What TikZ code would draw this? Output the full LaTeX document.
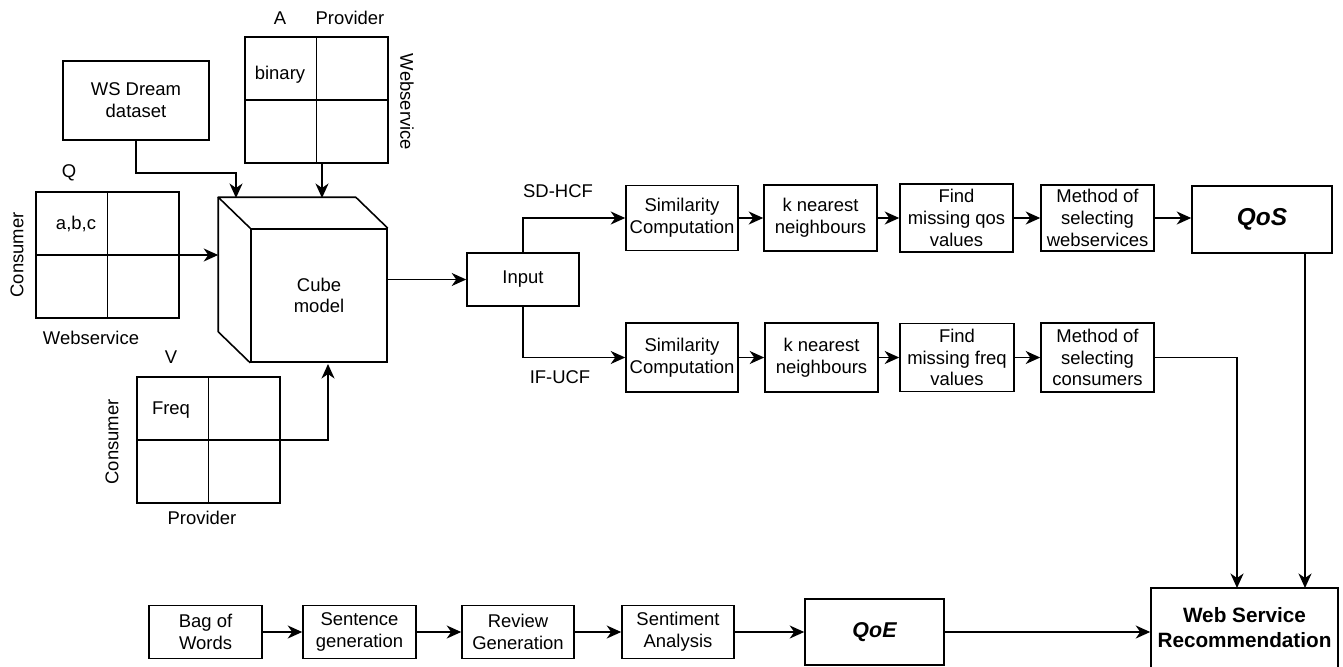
\documentclass[tikz,border=0pt]{standalone}
\usepackage{fontspec}
\setmainfont{Liberation Sans}
\usetikzlibrary{positioning}
\usetikzlibrary{arrows.meta}
\usetikzlibrary{calc}
\tikzset{
    mybox/.style = {rectangle, line width=0.9pt, draw=black, align=center, inner sep=1pt, font=\fontsize{10.5}{12.4}\selectfont, text=black},
    myqos/.style = {mybox, font=\fontsize{13.9}{16}\selectfont\bfseries\itshape},
    myqoe/.style = {mybox, font=\fontsize{12.2}{14}\selectfont\bfseries\itshape},
    mywsr/.style = {mybox, font=\fontsize{11.8}{14.2}\selectfont\bfseries},
    mygrid/.style = {rectangle, line width=0.9pt, draw=black, minimum width=28.6mm, minimum height=25.2mm},
    mytext/.style = {align=center, inner sep=0pt, font=\fontsize{10.5}{12.4}\selectfont, text=black},
    boxsize/.style 2 args = {minimum width=#1*0.2mm, minimum height=#2*0.2mm},
    edgen/.style = {-{Stealth[length=2.9mm,width=2.6mm,inset=0.9mm]}, line width=0.9pt, black},
    edgel/.style = {-, line width=0.9pt, black}
}

\begin{document}
\begin{tikzpicture}[x=0.2mm,y=-0.2mm]
\useasboundingbox (0,0) rectangle (1343,666);

% input side
\node[mybox, boxsize={146}{79}] at ( 136.0, 100.5) (wsd) {WS Dream\\dataset};
\node[mygrid] at ( 316.5, 100.0) (agrid) {};
\node[mygrid] at ( 107.5, 255.0) (qgrid) {};
\node[mygrid] at ( 208.5, 440.0) (vgrid) {};
\draw[edgel] (agrid.north) -- (agrid.south);
\draw[edgel] (agrid.west) -- (agrid.east);
\draw[edgel] (qgrid.north) -- (qgrid.south);
\draw[edgel] (qgrid.west) -- (qgrid.east);
\draw[edgel] (vgrid.north) -- (vgrid.south);
\draw[edgel] (vgrid.west) -- (vgrid.east);

\node[mytext] at ( 280,  18) (alab) {A};
\node[mytext] at ( 350,  18) (aprov) {Provider};
\node[mytext, rotate=-90] at ( 407, 102) (aws) {Webservice};
\node[mytext] at ( 280,  75) (abin) {binary};
\node[mytext] at (  69, 173) (qlab) {Q};
\node[mytext] at (  76, 224) (qabc) {a,b,c};
\node[mytext, rotate=90] at (  17, 255) (qcons) {Consumer};
\node[mytext] at (  91, 338) (qws) {Webservice};
\node[mytext] at ( 171, 357) (vlab) {V};
\node[mytext] at ( 171, 410) (vfreq) {Freq};
\node[mytext, rotate=90] at ( 112, 442) (vcons) {Consumer};
\node[mytext] at ( 202, 518) (vprov) {Provider};

% cube
\node[mybox, boxsize={136}{133}] at ( 319.0, 295.5) (cube) {Cube\\model};
\coordinate (cubebtl) at ($(cube.north west)+(-32,-31)$);
\coordinate (cubebtr) at ($(cube.north east)+(-32,-31)$);
\coordinate (cubebbl) at ($(cube.south west)+(-32,-31)$);
\draw[edgel, line join=round] (cube.north west) -- (cubebtl) -- (cubebtr) -- (cube.north east);
\draw[edgel, line join=round] (cubebtl) -- (cubebbl) -- (cube.south west);
\coordinate (cubeina) at (236, 198);
\coordinate (cubeinb) at (322, 198);
\coordinate (cubeind) at (328, 364);

\draw[edgen] (wsd.south) -- ++(0,32) -| (cubeina);
\draw[edgen] (agrid.south -| cubeinb) -- (cubeinb);
\draw[edgen] (qgrid.east) -- (qgrid.east -| cubebtl);
\draw[edgen] (vgrid.east) -| (cubeind);

% two filtering branches
\node[mybox, boxsize={112}{53}] at ( 523.0, 279.5) (input) {Input};
\node[mytext] at ( 558, 191) (sdhcf) {SD-HCF};
\node[mytext] at ( 560, 377) (ifucf) {IF-UCF};

\node[mybox, boxsize={112}{65}] at ( 682.0, 218.0) (sim1) {Similarity\\Computation};
\node[mybox, boxsize={113}{66}] at ( 820.5, 218.0) (knn1) {k nearest\\neighbours};
\node[mybox, boxsize={113}{68}] at ( 956.5, 218.0) (find1) {Find\\missing qos\\values};
\node[mybox, boxsize={113}{66}] at (1097.5, 218.0) (meth1) {Method of\\selecting\\webservices};
\node[myqos, boxsize={140}{67}] at (1262.0, 219.5) (qos) {QoS};

\node[mybox, boxsize={112}{69}] at ( 682.0, 357.5) (sim2) {Similarity\\Computation};
\node[mybox, boxsize={113}{69}] at ( 821.5, 357.5) (knn2) {k nearest\\neighbours};
\node[mybox, boxsize={114}{68}] at ( 957.0, 357.5) (find2) {Find\\missing freq\\values};
\node[mybox, boxsize={113}{69}] at (1097.5, 357.5) (meth2) {Method of\\selecting\\consumers};

\draw[edgen] (cube.east |- input) -- (input);
\draw[edgen] (input.north) |- (sim1.west);
\draw[edgen] (input.south) |- (sim2.west);
\draw[edgen] (sim1) -- (knn1);
\draw[edgen] (knn1) -- (find1);
\draw[edgen] (find1) -- (meth1);
\draw[edgen] (meth1.east) -- (meth1.east -| qos.west);
\draw[edgen] (sim2) -- (knn2);
\draw[edgen] (knn2) -- (find2);
\draw[edgen] (find2) -- (meth2);

% review side
\node[mybox, boxsize={113}{53}] at ( 205.5, 632.0) (bag) {Bag of\\Words};
\node[mybox, boxsize={113}{53}] at ( 359.5, 632.0) (sent) {Sentence\\generation};
\node[mybox, boxsize={112}{53}] at ( 518.0, 632.0) (review) {Review\\Generation};
\node[mybox, boxsize={112}{53}] at ( 678.0, 632.0) (senti) {Sentiment\\Analysis};
\node[myqoe, boxsize={139}{66}] at ( 874.5, 632.0) (qoe) {QoE};
\node[mywsr, boxsize={187}{80}] at (1244.5, 628.0) (wsr) {Web Service\\Recommendation};

\draw[edgen] (bag) -- (sent);
\draw[edgen] (sent) -- (review);
\draw[edgen] (review) -- (senti);
\draw[edgen] (senti) -- (qoe);
\draw[edgen] (qoe.east) -- (qoe.east -| wsr.west);

\coordinate (wsrina) at (1237, 588);
\coordinate (wsrinb) at (1305, 588);
\draw[edgen] (meth2.east) -| (wsrina);
\draw[edgen] (qos.south -| wsrinb) -- (wsrinb);

\end{tikzpicture}
\end{document}
